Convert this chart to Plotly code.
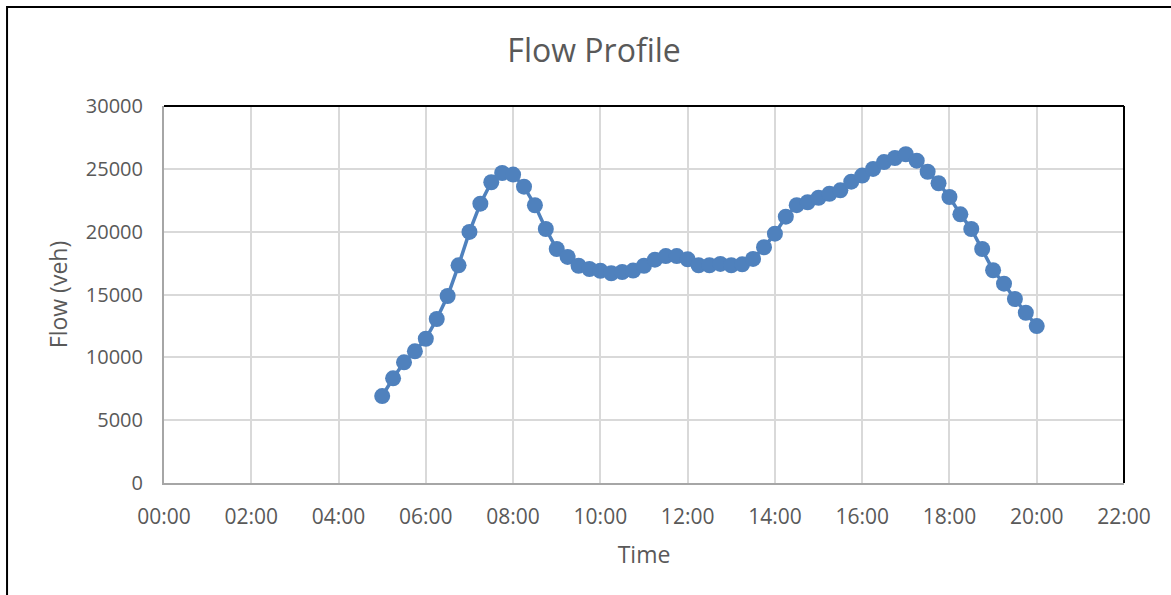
import plotly.graph_objects as go

# 15-minute counts from 05:00 to 20:00
times = [
    "05:00", "05:15", "05:30", "05:45", "06:00", "06:15", "06:30", "06:45",
    "07:00", "07:15", "07:30", "07:45", "08:00", "08:15", "08:30", "08:45",
    "09:00", "09:15", "09:30", "09:45", "10:00", "10:15", "10:30", "10:45",
    "11:00", "11:15", "11:30", "11:45", "12:00", "12:15", "12:30", "12:45",
    "13:00", "13:15", "13:30", "13:45", "14:00", "14:15", "14:30", "14:45",
    "15:00", "15:15", "15:30", "15:45", "16:00", "16:15", "16:30", "16:45",
    "17:00", "17:15", "17:30", "17:45", "18:00", "18:15", "18:30", "18:45",
    "19:00", "19:15", "19:30", "19:45", "20:00",
]
flow = [
    6920, 8330, 9600, 10480, 11480, 13050, 14880, 17320,
    19980, 22230, 23930, 24670, 24540, 23580, 22100, 20210,
    18620, 17990, 17290, 17030, 16890, 16690, 16790, 16900,
    17290, 17770, 18060, 18060, 17800, 17330, 17330, 17430,
    17330, 17400, 17830, 18760, 19840, 21190, 22110, 22340,
    22700, 23020, 23290, 23980, 24460, 24990, 25540, 25860,
    26160, 25650, 24770, 23850, 22760, 21380, 20210, 18620,
    16930, 15860, 14640, 13550, 12490,
]
tick_labels = ["00:00", "02:00", "04:00", "06:00", "08:00", "10:00",
               "12:00", "14:00", "16:00", "18:00", "20:00", "22:00"]

DAY = "2000-01-01 "
x_vals = [DAY + t for t in times]
tick_vals = [DAY + t for t in tick_labels]

FONT = "Open Sans"
TEXT_GREY = "#595959"
BLUE = "#4f81bd"

fig = go.Figure(
    go.Scatter(
        x=x_vals,
        y=flow,
        mode="lines+markers",
        line=dict(color=BLUE, width=3.5),
        marker=dict(color=BLUE, size=16),
        showlegend=False,
    )
)

fig.update_layout(
    width=1171,
    height=595,
    margin=dict(l=164, r=47, t=106, b=112),
    paper_bgcolor="white",
    plot_bgcolor="white",
    font=dict(family=FONT, color=TEXT_GREY),
    title=dict(
        text="Flow Profile",
        font=dict(size=32, color=TEXT_GREY, family=FONT),
        x=0.448, xanchor="center", xref="paper",
        y=0.915, yanchor="middle",
    ),
    xaxis=dict(
        type="date",
        range=[DAY + "00:00", DAY + "22:00"],
        tickvals=tick_vals,
        ticktext=tick_labels,
        showgrid=True,
        gridcolor="#d9d9d9",
        gridwidth=1.5,
        showline=True,
        linecolor="#a6a6a6",
        linewidth=2,
        ticks="",
        ticklabelstandoff=14,
        tickfont=dict(size=21, color=TEXT_GREY),
        title=dict(text="Time", font=dict(size=23, color=TEXT_GREY), standoff=18),
        zeroline=False,
    ),
    yaxis=dict(
        range=[0, 30000],
        dtick=5000,
        tickformat="d",
        showgrid=True,
        gridcolor="#d9d9d9",
        gridwidth=1.5,
        showline=True,
        linecolor="#a6a6a6",
        linewidth=2,
        ticks="",
        ticklabelstandoff=15,
        tickfont=dict(size=20, color=TEXT_GREY),
        title=dict(text="Flow (veh)", font=dict(size=23, color=TEXT_GREY), standoff=12),
        zeroline=False,
    ),
    shapes=[
        # top and right edges of the plot area
        dict(type="line", xref="paper", yref="paper", x0=0, x1=1, y0=1, y1=1,
             line=dict(color="black", width=2)),
        dict(type="line", xref="paper", yref="paper", x0=1, x1=1, y0=0, y1=1,
             line=dict(color="black", width=2)),
        # chart-area frame
        dict(type="rect", xref="paper", yref="paper",
             x0=-0.1635, x1=1.2, y0=-0.5, y1=1.2626,
             line=dict(color="black", width=2), layer="below"),
    ],
)

fig.write_html("out.html")
